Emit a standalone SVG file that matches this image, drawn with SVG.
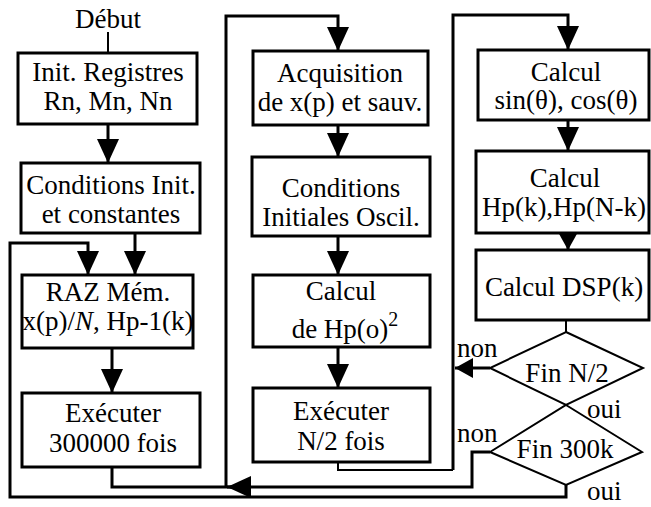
<svg xmlns="http://www.w3.org/2000/svg" width="651" height="507" viewBox="0 0 651 507">
<defs>
<style>
.box{fill:#fff;stroke:#000;stroke-width:3}
.dia{fill:#fff;stroke:#000;stroke-width:2}
.t{font-family:"Liberation Serif","Times New Roman",serif;font-size:27px;fill:#000;text-anchor:middle}
.l{font-family:"Liberation Serif","Times New Roman",serif;font-size:27px;fill:#000}
.c{fill:none;stroke:#000;stroke-width:3}
.c2{fill:none;stroke:#000;stroke-width:2}
</style>
<marker id="ah" markerUnits="userSpaceOnUse" markerWidth="24" markerHeight="22" refX="24" refY="11" orient="auto"><path d="M0,0 L24,11 L0,22 z" fill="#000"/></marker>
<marker id="ahs" markerUnits="userSpaceOnUse" markerWidth="18" markerHeight="20" refX="18" refY="10" orient="auto"><path d="M0,0 L18,10 L0,20 z" fill="#000"/></marker>
</defs>
<rect width="651" height="507" fill="#fff"/>
<g id="connectors">
<path class="c2" d="M108,32 V53"/>
<path class="c" d="M108,124 V163" marker-end="url(#ah)"/>
<path class="c" d="M135,233 V275" marker-end="url(#ah)"/>
<path class="c" d="M566,485 V497 H10 V243 H88 V275" marker-end="url(#ah)"/>
<path class="c" d="M112,348 V393" marker-end="url(#ah)"/>
<path class="c" d="M112,467 V487 H240"/>
<path class="c" d="M490,452 H472 V487 H227" marker-end="url(#ah)"/>
<path class="c" d="M226,487 V16 H338 V51" marker-end="url(#ah)"/>
<path class="c" d="M338,125 V157" marker-end="url(#ah)"/>
<path class="c" d="M338,236 V275" marker-end="url(#ah)"/>
<path class="c" d="M338,347 V388" marker-end="url(#ah)"/>
<path class="c2" d="M338,462 V470 H453"/>
<path class="c" d="M453,470 V15 H568 V50" marker-end="url(#ah)"/>
<path class="c" d="M568,120 V151" marker-end="url(#ah)"/>
<path class="c" d="M568,233 V250" marker-end="url(#ahs)"/>
<path class="c2" d="M566,320 V332"/>
<path class="c" d="M490,368 H455" marker-end="url(#ahs)"/>
</g>
<g id="n-debut"><text class="t" x="108" y="28">Début</text></g>
<g id="n-init-registres">
<rect class="box" x="18" y="53" width="179" height="71"/>
<text class="t" x="108" y="81">Init. Registres</text>
<text class="t" x="108" y="110">Rn, Mn, Nn</text>
</g>
<g id="n-conditions-init">
<rect class="box" x="21" y="163" width="179" height="70"/>
<text class="t" x="111" y="194">Conditions Init.</text>
<text class="t" x="111" y="223">et constantes</text>
</g>
<g id="n-raz">
<rect class="box" x="22" y="275" width="171" height="73"/>
<text class="t" x="108" y="301">RAZ Mém.</text>
<text class="t" x="108" y="330">x(p)/<tspan font-style="italic">N</tspan>, Hp-1(k)</text>
</g>
<g id="n-exec-300000">
<rect class="box" x="22" y="393" width="178" height="74"/>
<text class="t" x="113" y="422">Exécuter</text>
<text class="t" x="113" y="452">300000 fois</text>
</g>
<g id="n-acquisition">
<rect class="box" x="253" y="51" width="175" height="74"/>
<text class="t" x="340" y="82">Acquisition</text>
<text class="t" x="340" y="111">de x(p) et sauv.</text>
</g>
<g id="n-conditions-osc">
<rect class="box" x="252" y="157" width="178" height="79"/>
<text class="t" x="341" y="197">Conditions</text>
<text class="t" x="341" y="226">Initiales Oscil.</text>
</g>
<g id="n-calcul-hp0">
<rect class="box" x="253" y="275" width="177" height="72"/>
<text class="t" x="341" y="300">Calcul</text>
<text class="t" x="345" y="338">de Hp(o)<tspan font-size="20" dy="-12">2</tspan></text>
</g>
<g id="n-exec-n2">
<rect class="box" x="253" y="388" width="177" height="74"/>
<text class="t" x="341" y="420">Exécuter</text>
<text class="t" x="341" y="450">N/2 fois</text>
</g>
<g id="n-calcul-sincos">
<rect class="box" x="478" y="50" width="171" height="70"/>
<text class="t" x="566" y="81">Calcul</text>
<text class="t" x="566" y="109">sin(θ), cos(θ)</text>
</g>
<g id="n-calcul-hpk">
<rect class="box" x="476" y="151" width="173" height="82"/>
<text class="t" x="565" y="187">Calcul</text>
<text class="t" x="564" y="216">Hp(k),Hp(N-k)</text>
</g>
<g id="n-calcul-dsp">
<rect class="box" x="476" y="250" width="173" height="70"/>
<text class="t" x="564" y="296">Calcul DSP(k)</text>
</g>
<g id="n-fin-n2">
<polygon class="dia" points="566,332 643,368 566,405 490,368"/>
<text class="t" x="567" y="382">Fin N/2</text>
<text class="l" x="457" y="357">non</text>
<text class="l" x="587" y="418">oui</text>
</g>
<g id="n-fin-300k">
<polygon class="dia" points="566,405 642,452 566,485 490,452"/>
<text class="t" x="565" y="458">Fin 300k</text>
<text class="l" x="457" y="442">non</text>
<text class="l" x="587" y="500">oui</text>
</g>
</svg>
